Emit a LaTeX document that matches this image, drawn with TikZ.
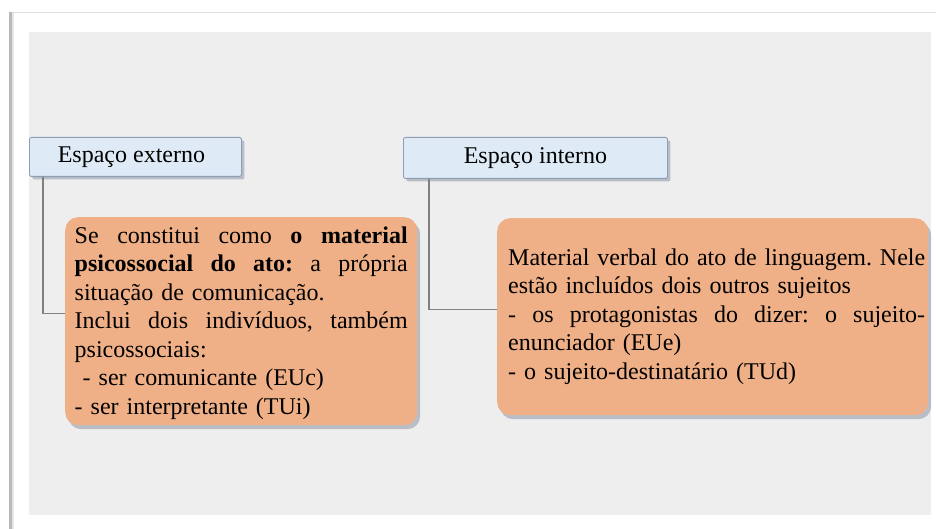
\documentclass[tikz,border=0pt]{standalone}
\usepackage{fontspec}
\setmainfont{Liberation Serif}
\usetikzlibrary{shadows,positioning}
\definecolor{panelgray}{HTML}{EEEEEE}
\definecolor{headfill}{HTML}{DEEBF7}
\definecolor{headdraw}{HTML}{8C9DB4}
\definecolor{peach}{HTML}{F0B087}
\definecolor{linkgray}{HTML}{808080}
\definecolor{shadowc}{HTML}{7A8496}
\newcommand\jline[2]{\makebox[#1][s]{\spaceskip=0pt\xspaceskip=0pt\relax #2}}
\tikzset{
  headbox/.style={draw=headdraw, line width=0.9pt, fill=headfill, rounded corners=2pt,
    drop shadow={shadow xshift=3pt, shadow yshift=-3pt, opacity=0.45, fill=shadowc},
    inner sep=0pt, font=\fontsize{24}{28}\selectfont},
  bodybox/.style={fill=peach, rounded corners=13pt, inner sep=0pt,
    drop shadow={shadow xshift=3pt, shadow yshift=-4pt, opacity=0.45, fill=shadowc}},
  bodytext/.style={inner sep=0pt, align=left, font=\fontsize{24}{28.5}\selectfont\frenchspacing},
  link/.style={draw=linkgray, line width=1.1pt}
}
\begin{document}
\begin{tikzpicture}[x=1pt,y=-1pt]
\useasboundingbox (0,0) rectangle (936,529);
\fill[white] (0,0) rectangle (936,529);
% card edges
\fill[gray!25] (9,12) rectangle (936,13.5);
\fill[gray!55] (9,12) rectangle (12,529);
\fill[gray!20] (12,13.5) rectangle (14,529);
% panel
\fill[panelgray] (29,32) rectangle (931,515);
% headers
\node[headbox, minimum width=212pt, minimum height=39pt, anchor=north west] (ext) at (29,137) {\hspace*{-8pt}Espaço externo};
\node[headbox, minimum width=264pt, minimum height=41pt, anchor=north west] (int) at (403,137) {Espaço interno};
% bodies
\node[bodybox, minimum width=352pt, minimum height=208pt, anchor=north west] (b1) at (65,217) {};
\node[bodybox, minimum width=431pt, minimum height=197pt, anchor=north west] (b2) at (497,218) {};
\node[bodytext, text width=333pt, yshift=-2pt] (t1) at (b1.center) {%
\jline{333pt}{Se constitui como \textbf{o material}}\\
\jline{333pt}{\textbf{psicossocial do ato:} a própria}\\
situação de comunicação.\\
\jline{333pt}{Inclui dois indivíduos, também}\\
psicossociais:\\
\ - ser comunicante (EUc)\\
- ser interpretante (TUi)};
\node[bodytext, text width=417pt, xshift=4pt] (t2) at (b2.center) {%
\jline{417pt}{Material verbal do ato de linguagem. Nele}\\
estão incluídos dois outros sujeitos\\
\jline{417pt}{- os protagonistas do dizer: o sujeito-}\\
enunciador (EUe)\\
- o sujeito-destinatário (TUd)};
% connectors
\coordinate (c1) at ([xshift=14pt]ext.south west);
\coordinate (c2) at ([xshift=26pt]int.south west);
\draw[link] (c1) |- ([yshift=8pt]b1.west);
\draw[link] (c2) |- ([yshift=7pt]b2.west);
\end{tikzpicture}
\end{document}
